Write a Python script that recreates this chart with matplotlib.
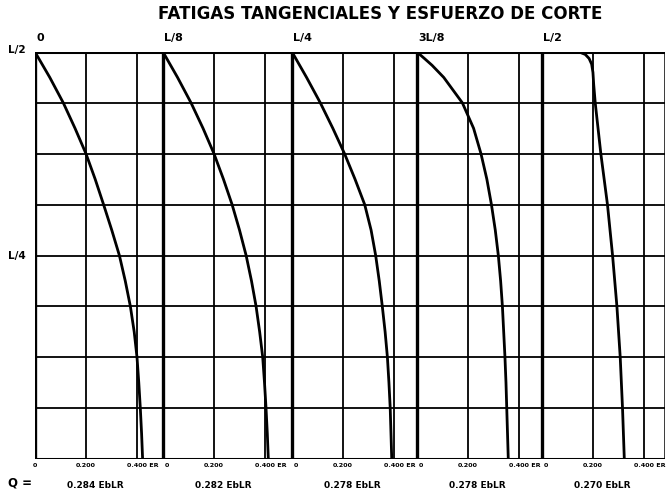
import matplotlib
matplotlib.use("Agg")
import matplotlib.pyplot as plt
import matplotlib.transforms as mtransforms

# ---------------- data ----------------
title = "FATIGAS TANGENCIALES Y ESFUERZO DE CORTE"
section_labels = ["0", "L/8", "L/4", "3L/8", "L/2"]
shear_labels = ["0.284 EbLR", "0.282 EbLR", "0.278 EbLR", "0.278 EbLR", "0.270 EbLR"]
x_tick_values = [0.0, 0.2, 0.4]
x_tick_labels = ["0", "0.200", "0.400 ER"]
y_label_values = [0.5, 0.25]
y_label_texts = ["L/2", "L/4"]
grid_levels = [0.4375, 0.375, 0.3125, 0.25, 0.1875, 0.125, 0.0625]

y_std = [0.5, 0.46875, 0.4375, 0.40625, 0.375, 0.34375, 0.3125, 0.28125, 0.25,
         0.21875, 0.1875, 0.15625, 0.125, 0.09375, 0.0625, 0.03125, 0.0]
tau_0 = [0.0, 0.058, 0.111, 0.157, 0.200, 0.236, 0.269, 0.301, 0.331,
         0.354, 0.374, 0.389, 0.400, 0.407, 0.413, 0.418, 0.422]
tau_L8 = [0.0, 0.057, 0.110, 0.157, 0.200, 0.237, 0.271, 0.300, 0.326,
          0.347, 0.365, 0.379, 0.391, 0.398, 0.404, 0.409, 0.413]
tau_L4 = [0.0, 0.057, 0.111, 0.160, 0.206, 0.247, 0.285, 0.310, 0.328,
          0.342, 0.354, 0.365, 0.374, 0.380, 0.385, 0.388, 0.391]
y_3L8 = [0.5, 0.4918, 0.4837, 0.46875, 0.4375, 0.40625, 0.375, 0.34375, 0.3125,
         0.28125, 0.25, 0.21875, 0.1875, 0.15625, 0.125, 0.09375, 0.0625, 0.03125, 0.0]
tau_3L8 = [0.0, 0.030, 0.059, 0.105, 0.178, 0.222, 0.251, 0.274, 0.292,
           0.307, 0.319, 0.328, 0.335, 0.340, 0.345, 0.349, 0.352, 0.355, 0.358]
y_L2 = [0.5, 0.5, 0.4995, 0.497, 0.492, 0.485, 0.475, 0.46, 0.4375, 0.375,
        0.3125, 0.25, 0.1875, 0.125, 0.0625, 0.0]
tau_L2 = [0.0, 0.12, 0.15, 0.17, 0.185, 0.195, 0.200, 0.203, 0.209, 0.231,
          0.257, 0.277, 0.294, 0.307, 0.316, 0.323]

curves_y = [y_std, y_std, y_std, y_3L8, y_L2]
curves_tau = [tau_0, tau_L8, tau_L4, tau_3L8, tau_L2]

# ---------------- layout ----------------
W, H = 667, 494
panel_offsets = [0.0, 0.502, 1.008, 1.498, 1.988]
x_max = 2.4706
px = x_max / 630.0  # data units per pixel

fig = plt.figure(figsize=(W / 100, H / 100), dpi=100)
fig.patch.set_facecolor("white")
ax = fig.add_axes([35 / W, 1 - 459 / H, 630 / W, 407 / H])
ax.set_xlim(0, x_max)
ax.set_ylim(0, 0.5)
ax.axis("off")

for yv in grid_levels:
    ax.plot([0, x_max], [yv, yv], color="black", lw=1.3, solid_capstyle="butt")
ax.plot([0, x_max], [0.5, 0.5], color="black", lw=2.2)
ax.plot([0, x_max], [0.0, 0.0], color="black", lw=2.2)
ax.plot([x_max, x_max], [0, 0.5], color="black", lw=1.8)

blend = mtransforms.blended_transform_factory(ax.transData, ax.transAxes)

for i, off in enumerate(panel_offsets):
    ax.plot([off, off], [0, 0.5], color="black", lw=2.4)
    for xv in x_tick_values[1:]:
        ax.plot([off + xv, off + xv], [0, 0.5], color="black", lw=1.3)
    ax.plot([off + t for t in curves_tau[i]], curves_y[i], color="black", lw=2.0,
            solid_joinstyle="round", solid_capstyle="round")
    ax.text(off + 0.005, 1.022, section_labels[i], transform=blend, ha="left",
            va="bottom", fontsize=8, fontweight="bold")
    for xv, lab in zip(x_tick_values, x_tick_labels):
        if lab.endswith("ER"):
            ha, xx = "left", off + xv - 10 * px
        elif xv == 0 and i > 0:
            ha, xx = "left", off + 2 * px
        else:
            ha, xx = "center", off + xv
        ax.text(xx, -0.01, lab, transform=blend, ha=ha, va="top",
                fontsize=4.6, fontweight="bold")
    ax.text(off + 0.235, -0.055, shear_labels[i], transform=blend, ha="center",
            va="top", fontsize=6.5, fontweight="bold")

for yv, lab in zip(y_label_values, y_label_texts):
    ax.text(-0.07, yv + (0.003 if yv == 0.5 else 0), lab, transform=ax.transData,
            ha="center", va="center", fontsize=7.5, fontweight="bold")
fig.text(8 / W, 1 - 483 / H, "Q =", ha="left", va="center", fontsize=8.5,
         fontweight="bold")

fig.text(380 / W, 1 - 14 / H, title, ha="center", va="center", fontsize=12,
         fontweight="bold")

fig.savefig("out.png", dpi=100, facecolor="white")
